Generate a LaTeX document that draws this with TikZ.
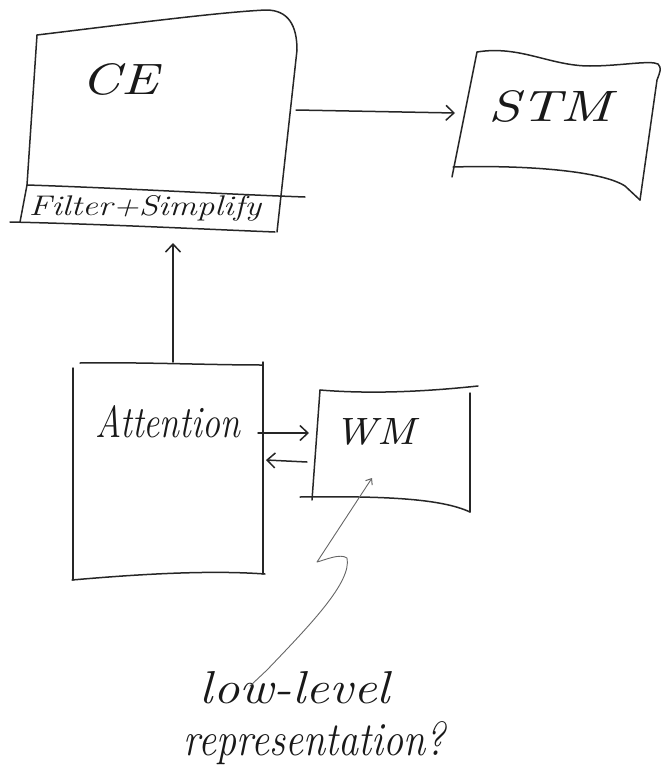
\documentclass[tikz,border=0pt]{standalone}
\usetikzlibrary{arrows.meta}
\begin{document}
\begin{tikzpicture}[x=1pt,y=-1pt,
  pen/.style={line width=1.5pt, draw=black!85, line cap=round, line join=round},
  thinpen/.style={line width=0.9pt, draw=black!60, line cap=round, line join=round},
  barb/.style={-{Straight Barb[length=8pt,width=15pt,line width=1.5pt]}},
  smallbarb/.style={-{Straight Barb[length=5pt,width=8pt,line width=1pt]}},
  hand/.style={inner sep=0pt, font=\itshape, text=black!90}]
\useasboundingbox (0,0) rectangle (671,771);

% ---- CE box with Filter+Simplify strip
\draw[pen] (27,185) -- (37,35)
  .. controls (120,25) and (220,12) .. (266,10)
  .. controls (288,10) and (297,25) .. (297,50) -- (277,232);
\draw[pen] (27,185) -- (20,222);
\draw[pen] (27,185) .. controls (120,188) and (220,194) .. (305,197);
\draw[pen] (10,222) .. controls (100,224) and (200,229) .. (275,232);
\node[hand] (ce) at (120,79) {\resizebox{76pt}{31pt}{CE}};
\node[hand] (filter) at (145,208) {\resizebox{232pt}{20pt}{\fontsize{20}{24}\selectfont Filter+Simplify}};

% ---- STM box
\draw[pen] (452,177) -- (477,52)
  .. controls (520,45) and (550,66) .. (590,66)
  .. controls (620,66) and (650,60) .. (658,64)
  .. controls (662,68) and (660,72) .. (657,80) -- (640,200);
\draw[pen] (453,167) .. controls (520,165) and (600,170) .. (625,186) -- (640,200);
\node[hand] (stm) at (550,106) {\resizebox{124pt}{31pt}{STM}};

% ---- Attention box
\draw[pen] (80,363) .. controls (140,362) and (210,365) .. (262,365);
\draw[pen] (73,368) -- (73,580);
\draw[pen] (263,362) -- (263,574);
\draw[pen] (72,580) .. controls (140,574) and (210,570) .. (265,574);
\node[hand] (att) at (168,422) {\resizebox{144pt}{32pt}{\fontsize{30}{36}\selectfont Attention}};

% ---- WM box
\draw[pen] (320,390) .. controls (380,395) and (440,390) .. (478,386);
\draw[pen] (320,390) -- (312,500);
\draw[pen] (470,393) -- (470,512);
\draw[pen] (300,497) .. controls (380,496) and (440,498) .. (470,512);
\node[hand] (wm) at (375,432) {\resizebox{80pt}{26pt}{WM}};

% ---- bottom note
\node[hand] (low) at (295,688) {\resizebox{190pt}{32pt}{\fontsize{28}{32}\selectfont low-level}};
\node[hand] (rep) at (315,743) {\resizebox{262pt}{34pt}{\fontsize{28}{32}\selectfont representation?}};

% ---- connectors
\coordinate (attTop) at (173,362);
\coordinate (ceBot) at (173,243);
\draw[pen,barb] (attTop) -- (ceBot);

\coordinate (ceR) at (296,110);
\coordinate (stmL) at (455,113);
\draw[pen,barb] (ceR) -- (stmL);

\coordinate (attR1) at (258,433);
\coordinate (wmL1) at (309,433);
\draw[pen,barb] (attR1) -- (wmL1);

\coordinate (wmL2) at (307,462);
\coordinate (attR2) at (266,460);
\draw[pen,barb] (wmL2) -- (attR2);

\coordinate (boltEnd) at (250,686);
\coordinate (wmIn) at (372,478);
\draw[thinpen,smallbarb] (boltEnd) -- (267,670)
  .. controls (310,625) and (352,582) .. (347,558)
  .. controls (340,553) and (325,560) .. (317,562) -- (wmIn);
\end{tikzpicture}
\end{document}
